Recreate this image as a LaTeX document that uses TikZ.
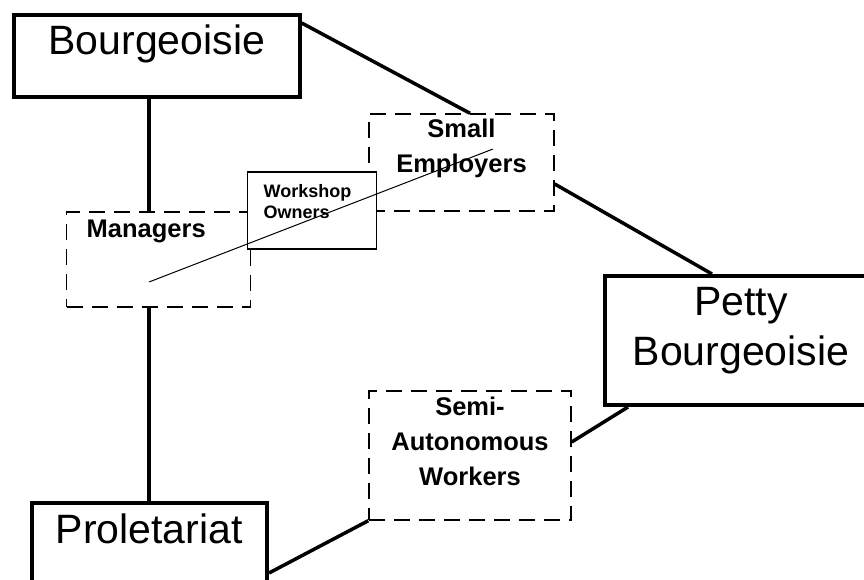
\documentclass[tikz,border=0pt]{standalone}
\usepackage{fontspec}
\setmainfont{Liberation Sans}
\tikzset{%
  classbox/.style={draw, line width=4pt, inner sep=0pt, align=center,
    font=\fontsize{41}{50}\selectfont},%
  fraction/.style={draw, line width=1.4pt, dash pattern=on 16pt off 9pt,
    inner sep=0pt, align=center, font=\fontsize{25.5}{35}\selectfont\bfseries},%
  smallbox/.style={draw, fill=white, line width=1.4pt, inner sep=0pt,
    align=left, font=\fontsize{18}{21.5}\selectfont\bfseries},%
  link/.style={line width=3.5pt},%
}

\begin{document}
\begin{tikzpicture}[x=1pt,y=-1pt]
  \useasboundingbox (0,0) rectangle (864,580);
  \clip (0,0) rectangle (864,580);
  % classes
  \node[classbox, text width=286pt, text height=40pt, text depth=42pt, anchor=base]
    (bourg) at (156.7,55) {Bourgeoisie};
  \node[classbox, text width=272pt, text height=39pt, text depth=90pt, anchor=base]
    (petty) at (741,315) {Petty\\Bourgeoisie};
  \node[classbox, text width=235.5pt, text height=40.5pt, text depth=80pt, anchor=base]
    (prol) at (149.25,543) {Proletariat};
  % contradictory locations
  \node[fraction, text width=144pt, inner xsep=20pt, align=left, text height=25pt,
    text depth=70pt, anchor=base west] (mgr) at (66,237) {Managers};
  \node[fraction, text width=185pt, text height=24pt, text depth=73pt, anchor=base]
    (small) at (461.5,138) {Small\\Employers};
  \node[fraction, text width=202pt, text height=24pt, text depth=105pt, anchor=base]
    (semi) at (470,415) {Semi-\\Autonomous\\Workers};
  \node[smallbox, text width=97pt, inner xsep=16pt, text height=25pt, text depth=52pt,
    anchor=base west] (shop) at (247,197) {Workshop\\Owners};
  % thin line across
  \coordinate (tie-a) at (149,282);
  \coordinate (tie-b) at (493,149);
  \draw[line width=1pt] (tie-a) -- (tie-b);
  % links
  \draw[link, line width=4pt] (prol.north |- bourg.south) -- (prol.north |- mgr.north);
  \draw[link, line width=4pt] (prol.north |- mgr.south) -- (prol.north);
  \draw[link] ([yshift=-10pt]bourg.north east) -- ([xshift=8.5pt]small.north);
  \draw[link] ([yshift=-21.5pt]small.east) -- ([xshift=-29pt]petty.north);
  \draw[link] ([xshift=25pt]petty.south west) -- ([yshift=13.5pt]semi.east);
  \draw[link] (semi.south west) -- ([yshift=-72.5pt]prol.north east);
\end{tikzpicture}
\end{document}
